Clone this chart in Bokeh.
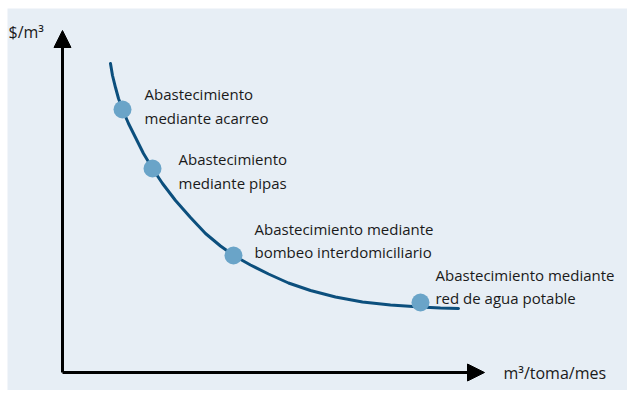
from bokeh.plotting import figure
from bokeh.models import Range1d, Arrow, NormalHead, ColumnDataSource
from bokeh.core.properties import value
from bokeh.embed import file_html
from bokeh.resources import INLINE

# Curve (x: m3/toma/mes, y: $/m3; arbitrary units 0-100)
curve_x = [11.37, 11.85, 12.56, 13.27, 14.22, 15.64, 17.30, 19.19, 21.33, 23.70,
           26.78, 30.33, 33.89, 37.44, 40.76, 44.55, 48.82, 53.55, 58.77, 64.69,
           71.09, 77.73, 84.83, 89.57, 93.84]
curve_y = [90.35, 86.84, 83.33, 80.12, 76.90, 72.81, 68.71, 64.04, 59.65, 55.26,
           50.29, 45.32, 40.64, 36.99, 34.06, 31.43, 28.80, 26.17, 23.98, 22.08,
           20.61, 19.74, 19.15, 18.86, 18.71]

# Supply modes (points on the curve)
mode_x = [14.22, 21.33, 40.52, 84.83]
mode_y = [76.90, 59.65, 34.21, 20.47]
mode_line1 = ["Abastecimiento", "Abastecimiento", "Abastecimiento mediante", "Abastecimiento mediante"]
mode_line2 = ["mediante acarreo", "mediante pipas", "bombeo interdomiciliario", "red de agua potable"]

y_axis_label = "$/m³"
x_axis_label = "m³/toma/mes"

BG = "#e7eef5"
FONT = "Open Sans"

p = figure(width=627, height=390, output_backend="svg", toolbar_location=None,
           x_range=Range1d(-13.033, 133.886), y_range=Range1d(-5.263, 106.433),
           min_border_top=8, min_border_left=7, min_border_right=0, min_border_bottom=0,
           background_fill_color=BG, border_fill_color="white",
           outline_line_color=None)
p.axis.visible = False
p.grid.visible = False

# axes as arrows
p.add_layout(Arrow(end=NormalHead(size=17, fill_color="black", line_color="black", line_width=1),
                   x_start=0, y_start=0, x_end=100, y_end=0, line_width=3, line_color="black"))
p.add_layout(Arrow(end=NormalHead(size=17, fill_color="black", line_color="black", line_width=1),
                   x_start=0, y_start=0, x_end=0, y_end=100, line_width=3, line_color="black"))

p.line(curve_x, curve_y, line_color="#0c4f7d", line_width=3, line_cap="round")
p.scatter(mode_x, mode_y, size=18, fill_color="#6aa4c8", line_color=None)

src = ColumnDataSource(dict(x=mode_x, y=mode_y, l1=mode_line1, l2=mode_line2,
                            dx=[22, 26, 21, 15], dy1=[-16, -9, -27, -27], dy2=[8, 15, -4, -4]))
common = dict(text_font=value(FONT), text_color="#1a1a1a",
              text_align="left", text_baseline="middle")
p.text(x="x", y="y", text="l1", x_offset="dx", y_offset="dy1", source=src,
       text_font_size="15px", **common)
p.text(x="x", y="y", text="l2", x_offset="dx", y_offset="dy2", source=src,
       text_font_size="15px", **common)

# axis titles
p.text(x=[0], y=[100], text=[y_axis_label], x_offset=-54, y_offset=1,
       text_font_size="16px", **common)
p.text(x=[100], y=[0], text=[x_axis_label], x_offset=19, y_offset=0,
       text_font_size="16px", **common)

open("out.html", "w").write(file_html(p, INLINE))
